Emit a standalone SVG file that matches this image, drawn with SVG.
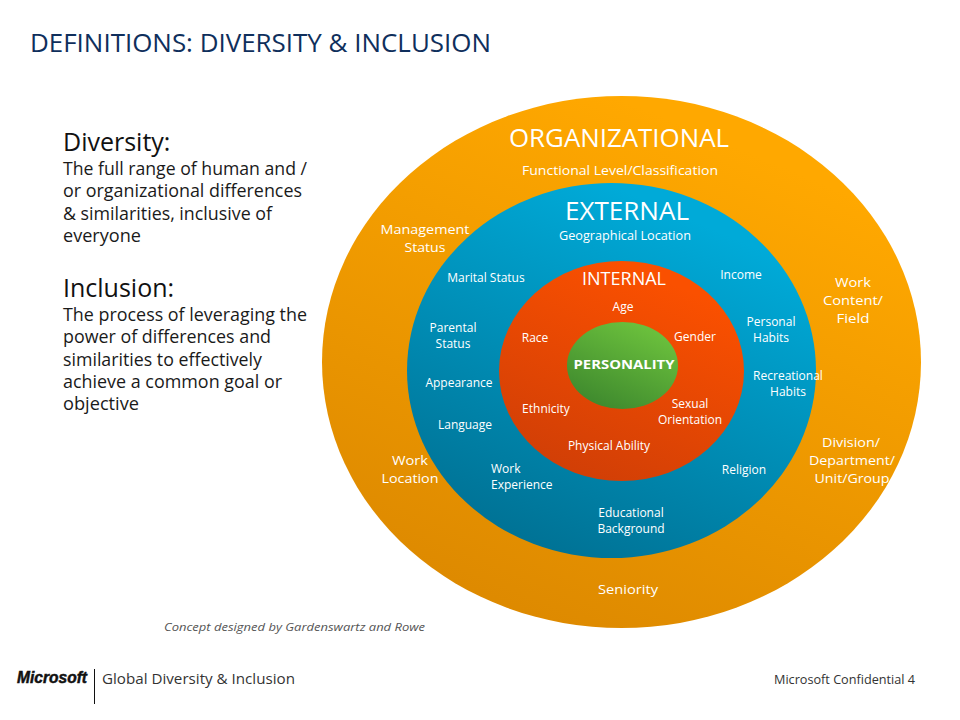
<svg xmlns="http://www.w3.org/2000/svg" width="960" height="720" viewBox="0 0 960 720">
<style>
text{font-family:"Open Sans","Noto Sans","Liberation Sans",sans-serif;}
.w{fill:#fff;font-size:12px;text-anchor:middle}
.o{fill:#fff;font-size:13px;text-anchor:middle}
.h{fill:#fff;text-anchor:middle}
.b{fill:#1a1a1a;font-size:17.5px}
.t{fill:#111;font-size:25px}
</style>
<defs>
<linearGradient id="go" x1="0.7" y1="0.1" x2="0.3" y2="0.95"><stop offset="0" stop-color="#ffa800"/><stop offset="1" stop-color="#de8a00"/></linearGradient>
<linearGradient id="gb" x1="0.7" y1="0.1" x2="0.3" y2="0.95"><stop offset="0" stop-color="#00aad8"/><stop offset="1" stop-color="#007396"/></linearGradient>
<linearGradient id="gr" x1="0.7" y1="0.1" x2="0.3" y2="0.95"><stop offset="0" stop-color="#fa5000"/><stop offset="1" stop-color="#d23f06"/></linearGradient>
<linearGradient id="gg" x1="0.75" y1="0.1" x2="0.25" y2="0.95"><stop offset="0" stop-color="#6abf3c"/><stop offset="1" stop-color="#3f8a2e"/></linearGradient>
</defs>
<rect width="960" height="720" fill="#fff"/>
<text id="title" x="30" y="52" font-size="25" fill="#0f2f5c" textLength="461" lengthAdjust="spacingAndGlyphs">DEFINITIONS: DIVERSITY &amp; INCLUSION</text>
<g id="definitions">
<text class="t" x="63" y="151">Diversity:</text>
<text class="b" x="63" y="175" textLength="244" lengthAdjust="spacingAndGlyphs">The full range of human and /</text>
<text class="b" x="63" y="197" textLength="239" lengthAdjust="spacingAndGlyphs">or organizational differences</text>
<text class="b" x="63" y="220" textLength="209" lengthAdjust="spacingAndGlyphs">&amp; similarities, inclusive of</text>
<text class="b" x="63" y="242" textLength="78" lengthAdjust="spacingAndGlyphs">everyone</text>
<text class="t" x="63" y="297">Inclusion:</text>
<text class="b" x="63" y="321" textLength="244" lengthAdjust="spacingAndGlyphs">The process of leveraging the</text>
<text class="b" x="63" y="343" textLength="208" lengthAdjust="spacingAndGlyphs">power of differences and</text>
<text class="b" x="63" y="366" textLength="199" lengthAdjust="spacingAndGlyphs">similarities to effectively</text>
<text class="b" x="63" y="388" textLength="219" lengthAdjust="spacingAndGlyphs">achieve a common goal or</text>
<text class="b" x="63" y="410" textLength="76" lengthAdjust="spacingAndGlyphs">objective</text>
</g>
<g id="organizational">
<ellipse cx="621.5" cy="362" rx="299.5" ry="266" fill="url(#go)"/>
<text class="h" x="619" y="147" font-size="25" textLength="220" lengthAdjust="spacingAndGlyphs">ORGANIZATIONAL</text>
<text class="o" x="620" y="175" textLength="196" lengthAdjust="spacingAndGlyphs">Functional Level/Classification</text>
<text class="o" x="425" y="234" textLength="89" lengthAdjust="spacingAndGlyphs">Management</text><text class="o" x="425" y="252" textLength="41" lengthAdjust="spacingAndGlyphs">Status</text>
<text class="o" x="853" y="287" textLength="36" lengthAdjust="spacingAndGlyphs">Work</text><text class="o" x="853" y="305" textLength="60" lengthAdjust="spacingAndGlyphs">Content/</text><text class="o" x="853" y="323" textLength="33" lengthAdjust="spacingAndGlyphs">Field</text>
<text class="o" x="851" y="447" textLength="58" lengthAdjust="spacingAndGlyphs">Division/</text><text class="o" x="852" y="465" textLength="86" lengthAdjust="spacingAndGlyphs">Department/</text><text class="o" x="852" y="483" textLength="75" lengthAdjust="spacingAndGlyphs">Unit/Group</text>
<text class="o" x="410" y="465" textLength="36" lengthAdjust="spacingAndGlyphs">Work</text><text class="o" x="410" y="483" textLength="57" lengthAdjust="spacingAndGlyphs">Location</text>
<text class="o" x="628" y="594" textLength="60" lengthAdjust="spacingAndGlyphs">Seniority</text>
</g>
<g id="external">
<ellipse cx="611.5" cy="370.5" rx="204.5" ry="187.5" fill="url(#gb)"/>
<text class="h" x="627" y="220" font-size="25" textLength="124" lengthAdjust="spacingAndGlyphs">EXTERNAL</text>
<text class="w" x="625" y="240" textLength="132" lengthAdjust="spacingAndGlyphs">Geographical Location</text>
<text class="w" x="486" y="282">Marital Status</text>
<text class="w" x="741" y="279">Income</text>
<text class="w" x="453" y="332">Parental</text><text class="w" x="453" y="348">Status</text>
<text class="w" x="771" y="326">Personal</text><text class="w" x="771" y="342">Habits</text>
<text class="w" x="788" y="380">Recreational</text><text class="w" x="788" y="396">Habits</text>
<text class="w" x="459" y="387">Appearance</text>
<text class="w" x="465" y="429">Language</text>
<text class="w" x="491" y="473" style="text-anchor:start">Work</text><text class="w" x="491" y="489" style="text-anchor:start">Experience</text>
<text class="w" x="744" y="474">Religion</text>
<text class="w" x="631" y="517">Educational</text><text class="w" x="631" y="533">Background</text>
</g>
<g id="internal">
<ellipse cx="621.5" cy="371" rx="122.5" ry="110" fill="url(#gr)"/>
<text class="h" x="624" y="285" font-size="18" textLength="84" lengthAdjust="spacingAndGlyphs">INTERNAL</text>
<text class="w" x="623" y="311">Age</text>
<text class="w" x="535" y="342">Race</text>
<text class="w" x="695" y="341">Gender</text>
<text class="w" x="546" y="413">Ethnicity</text>
<text class="w" x="690" y="408">Sexual</text><text class="w" x="690" y="424">Orientation</text>
<text class="w" x="609" y="450">Physical Ability</text>
</g>
<g id="personality">
<ellipse cx="622.5" cy="365.5" rx="55.5" ry="43.5" fill="url(#gg)"/>
<text class="w" x="624" y="369" font-weight="700" font-size="15" textLength="101" lengthAdjust="spacingAndGlyphs">PERSONALITY</text>
</g>
<text id="credit" x="164" y="631" font-size="11.5" font-style="italic" fill="#555" textLength="261" lengthAdjust="spacingAndGlyphs">Concept designed by Gardenswartz and Rowe</text>
<g id="footer">
<text x="17" y="683" font-size="16" font-weight="700" font-style="italic" fill="#111" stroke="#111" stroke-width="0.5" textLength="70" lengthAdjust="spacingAndGlyphs" style="font-family:'Liberation Sans',sans-serif">Microsoft</text>
<line x1="94.5" y1="669" x2="94.5" y2="704" stroke="#111" stroke-width="1"/>
<text x="102" y="684" font-size="15" fill="#333" textLength="193" lengthAdjust="spacingAndGlyphs">Global Diversity &amp; Inclusion</text>
<text x="774" y="684" font-size="12.5" fill="#333" textLength="141" lengthAdjust="spacingAndGlyphs">Microsoft Confidential 4</text>
</g>
</svg>
